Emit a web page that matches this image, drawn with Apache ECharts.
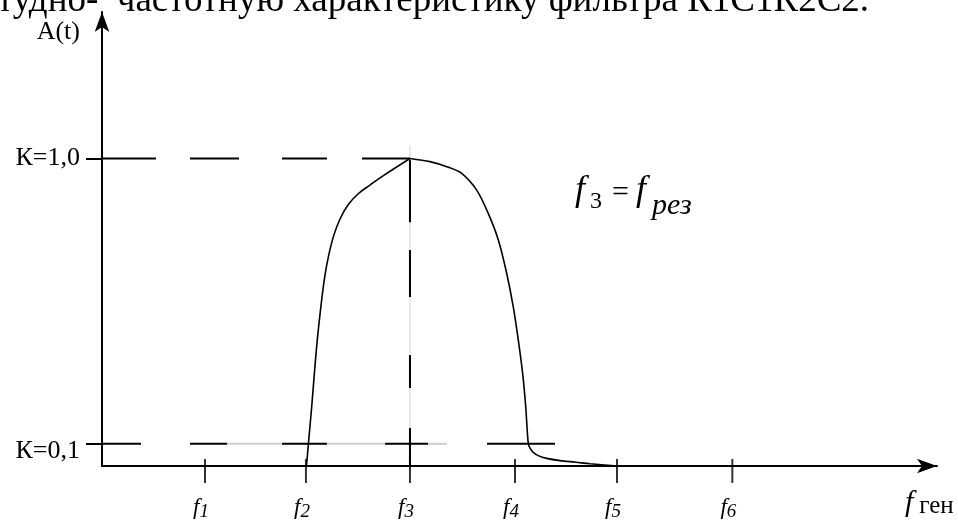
<!DOCTYPE html>
<html>
<head>
<meta charset="utf-8">
<script src="https://cdn.jsdelivr.net/npm/echarts@6/dist/echarts.min.js"></script>
<style>
  html, body { margin: 0; padding: 0; background: #ffffff; }
  #chart { width: 958px; height: 525px; }
</style>
</head>
<body>
<div id="chart"></div>
<script>
// Frequency ticks on the horizontal axis (schematic units) and their names
const freqTicks = [1.0, 1.98, 2.99, 4.01, 5.0, 6.12];
const freqNames = ['f1', 'f2', 'f3', 'f4', 'f5', 'f6'];

// Transfer-coefficient reference levels on the vertical axis
const kLevels = [0.1, 1.0];
const kLabels = ['К=0,1', 'К=1,0'];

// Resonance frequency (f3)
const fRes = 2.99;

// Amplitude-frequency response of the filter: rising branch up to f3, then falling branch
const riseF = [1.985, 2.010, 2.036, 2.062, 2.090, 2.126, 2.165, 2.204, 2.252, 2.311,
               2.388, 2.485, 2.602, 2.728, 2.990];
const riseA = [0.030, 0.122, 0.217, 0.322, 0.427, 0.535, 0.632, 0.699, 0.759, 0.809,
               0.853, 0.888, 0.916, 0.945, 1.000];
const fallF = [2.990, 3.184, 3.347, 3.492, 3.638, 3.750, 3.848, 3.929, 3.993, 4.042, 4.084,
               4.114, 4.139, 4.160, 4.187, 4.240, 4.317, 4.447, 4.600, 4.738, 5.000];
const fallA = [1.000, 0.990, 0.974, 0.953, 0.900, 0.827, 0.743, 0.638, 0.532, 0.427, 0.322,
               0.217, 0.100, 0.084, 0.073, 0.062, 0.054, 0.047, 0.042, 0.037, 0.030];

// Dashed guide lines, as [from, to] ranges along the line
const levelOneDashes = [[0, 0.524], [0.854, 1.330], [1.748, 2.184], [2.524, 2.990]];
const levelTenthDashes = [[0, 0.379], [0.854, 1.214], [1.748, 2.184], [2.748, 3.165], [3.738, 4.398]];
const levelTenthFaint = [[1.214, 1.748], [2.184, 2.748], [3.165, 3.350]];
const resonanceDashes = [[0.995, 0.799], [0.711, 0.563], [0.380, 0.276], [0.150, 0.030]];
const resonanceFaint = [1.042, 0.030];

const Y_MIN = 0.03, Y_MAX = 1.462, X_MIN = 0, X_MAX = 8.107;
const SERIF = "'Liberation Serif', 'Times New Roman', serif";

function segment(points, color, width) {
  return {
    type: 'line', data: points, symbol: 'none', silent: true, clip: false,
    animation: false, lineStyle: { color: color, width: width, type: 'solid' }, z: 3
  };
}

function branch(fs, as, smooth) {
  return {
    type: 'line', data: fs.map((f, i) => [f, as[i]]), symbol: 'none',
    silent: true, animation: false, clip: false, smooth: smooth,
    lineStyle: { color: '#000', width: 1.6 }, z: 5
  };
}

// a piece of the resonance formula, placed by its text baseline
function formulaPiece(text, x, baseline, size, italic) {
  return {
    type: 'text', x: x, y: baseline - 0.3375 * size, silent: true,
    style: {
      text: text, fill: '#000', align: 'left', verticalAlign: 'middle',
      font: (italic ? 'italic ' : '') + size + 'px ' + SERIF
    }
  };
}

const series = [];
// faint guide through the resonance frequency
series.push(segment([[fRes, resonanceFaint[0]], [fRes, resonanceFaint[1]]], '#d2d2d2', 1));
levelTenthFaint.forEach(s => series.push(segment([[s[0], kLevels[0]], [s[1], kLevels[0]]], '#cfcfcf', 2)));
levelOneDashes.forEach(s => series.push(segment([[s[0], kLevels[1]], [s[1], kLevels[1]]], '#000', 2)));
levelTenthDashes.forEach(s => series.push(segment([[s[0], kLevels[0]], [s[1], kLevels[0]]], '#000', 2)));
resonanceDashes.forEach(s => series.push(segment([[fRes, s[0]], [fRes, s[1]]], '#000', 2)));

// response curve
series.push(branch(riseF, riseA, 0.4));
series.push(branch(fallF, fallA, 0.3));

// frequency tick marks crossing the axis
series.push({
  type: 'scatter', data: freqTicks.map(f => [f, Y_MIN]), symbol: 'rect',
  symbolSize: [2, 24], symbolOffset: [0, 5], itemStyle: { color: '#000' },
  silent: true, animation: false, clip: false, z: 6
});

const option = {
  backgroundColor: '#ffffff',
  animation: false,
  grid: { left: 102, right: 21, top: 12, bottom: 59, containLabel: false, outerBoundsMode: 'none' },
  xAxis: {
    type: 'value', min: X_MIN, max: X_MAX,
    splitLine: { show: false },
    axisLine: { show: true, symbol: ['none', 'arrow'], symbolSize: [11, 20],
                lineStyle: { color: '#000', width: 2 } },
    axisTick: { show: false },
    axisLabel: {
      show: true, customValues: freqTicks, margin: 29,
      formatter: function (v) {
        const i = freqTicks.indexOf(v);
        const n = i >= 0 ? freqNames[i] : '';
        return '{f|' + n.slice(0, 1) + '}{n|' + n.slice(1) + '}';
      },
      rich: {
        f: { fontFamily: SERIF, fontStyle: 'italic', fontSize: 23, color: '#000', lineHeight: 26, verticalAlign: 'middle' },
        n: { fontFamily: SERIF, fontStyle: 'italic', fontSize: 19, color: '#000', lineHeight: 19, verticalAlign: 'bottom', padding: [0, 8, 0, 0] }
      }
    },
    name: '{f|f}{g|ген}', nameLocation: 'end', nameGap: -32, nameMoveOverlap: false,
    nameTextStyle: {
      align: 'left', verticalAlign: 'top', padding: [21, 0, 0, 0],
      rich: {
        f: { fontFamily: SERIF, fontStyle: 'italic', fontSize: 30, color: '#000', lineHeight: 32, verticalAlign: 'middle' },
        g: { fontFamily: SERIF, fontSize: 25, color: '#000', lineHeight: 22, verticalAlign: 'bottom', padding: [0, 0, 0, 6] }
      }
    }
  },
  yAxis: {
    type: 'value', min: Y_MIN, max: Y_MAX,
    splitLine: { show: false },
    axisLine: { show: true, symbol: ['none', 'arrow'], symbolSize: [11, 20],
                lineStyle: { color: '#000', width: 2 } },
    axisTick: { show: true, customValues: kLevels, length: 16, inside: false,
                lineStyle: { color: '#000', width: 2 } },
    axisLabel: {
      show: true, customValues: kLevels, margin: 22,
      formatter: function (v) {
        const i = kLevels.indexOf(v);
        return i === 0 ? '{low|' + kLabels[i] + '}' : '{up|' + kLabels[i] + '}';
      },
      rich: {
        up: { fontFamily: SERIF, fontSize: 26, color: '#000' },
        low: { fontFamily: SERIF, fontSize: 26, color: '#000', padding: [14, 0, 0, 0] }
      }
    },
    name: 'A(t)', nameLocation: 'end', nameGap: -20, nameMoveOverlap: false,
    nameTextStyle: { fontFamily: SERIF, fontSize: 26, color: '#000', align: 'right',
                     verticalAlign: 'middle', padding: [0, 22, 0, 0] }
  },
  graphic: [
    {
      type: 'text', left: -3, top: -17, silent: true,
      style: { text: 'тудно-  частотную характеристику фильтра R1C1R2C2.',
               font: '37px ' + SERIF, fill: '#000' }
    },
    {
      type: 'group', silent: true,
      children: [
        formulaPiece('f', 575, 203, 36, true),
        formulaPiece('3', 590, 210, 24, false),
        formulaPiece('=', 612, 203, 30, false),
        formulaPiece('f', 636, 203, 36, true),
        formulaPiece('рез', 652, 216, 30, true)
      ]
    }
  ],
  series: series
};

const chart = echarts.init(document.getElementById('chart'));
chart.setOption(option);
</script>
</body>
</html>
